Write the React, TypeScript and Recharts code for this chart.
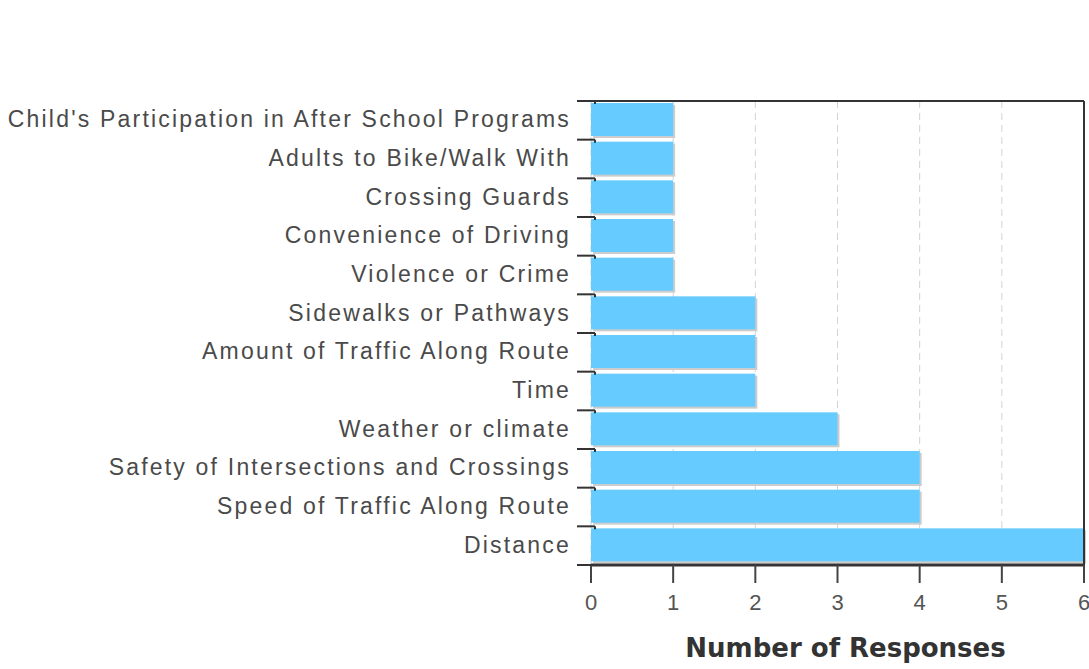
import React from "react";
import {
  BarChart,
  Bar,
  XAxis,
  YAxis,
  CartesianGrid
} from "recharts";

const categories = [
  "Child's Participation in After School Programs",
  "Adults to Bike/Walk With",
  "Crossing Guards",
  "Convenience of Driving",
  "Violence or Crime",
  "Sidewalks or Pathways",
  "Amount of Traffic Along Route",
  "Time",
  "Weather or climate",
  "Safety of Intersections and Crossings",
  "Speed of Traffic Along Route",
  "Distance"
];
const responses = [1, 1, 1, 1, 1, 2, 2, 2, 3, 4, 4, 6];
const xTicks = [0, 1, 2, 3, 4, 5, 6];

const data = categories.map((name, i) => ({ name, value: responses[i] }));

const LABEL_FONT = "'Liberation Sans', Arial, sans-serif";

// bar with a small grey drop shadow to the right
const ShadowBar = (props: any) => {
  const { x, y, width, height } = props;
  if (width <= 0) return null;
  return (
    <g>
      <rect x={x + 2} y={y + 2} width={width} height={height - 2} fill="#cccccc" />
      <rect x={x} y={y} width={width} height={height - 2} fill="#66ccff" />
    </g>
  );
};

// category label at band centre, tick mark at the band edge
const CategoryTick = (props: any) => {
  const { x, y, payload, index } = props;
  const band = 464 / categories.length;
  const top = y - band / 2;
  const axisX = x + 12;
  const marks = [top];
  if (index === categories.length - 1) marks.push(y + band / 2);
  return (
    <g>
      {marks.map((my, k) => (
        <g key={k}>
          <line x1={axisX - 18} y1={my} x2={axisX} y2={my} stroke="#333" strokeWidth={2} />
          {k === 0 && <line x1={axisX} y1={my} x2={axisX} y2={my + 3} stroke="#333" strokeWidth={2} />}
        </g>
      ))}
      <text
        x={x - 12}
        y={y}
        dy="0.3em"
        textAnchor="end"
        fontFamily={LABEL_FONT}
        fontSize={23}
        letterSpacing={2.2}
        fill="#4a4a4a"
      >
        {payload.value}
      </text>
    </g>
  );
};

const NumberTick = (props: any) => {
  const { x, y, payload } = props;
  return (
    <text
      x={x}
      y={y + 25}
      textAnchor="middle"
      fontFamily={LABEL_FONT}
      fontSize={22}
      fill="#555"
    >
      {payload.value}
    </text>
  );
};

export default function App() {
  return (
    <div style={{ position: "absolute", left: 0, top: 0, background: "#fff" }}>
      <BarChart
        width={1089}
        height={669}
        data={data}
        layout="vertical"
        margin={{ top: 100, right: 4, bottom: 0, left: 0 }}
        barCategoryGap={2}
      >
        <CartesianGrid
          horizontal={false}
          stroke="#cfd4d8"
          strokeDasharray="7 5"
        />
        <XAxis
          xAxisId="top"
          orientation="top"
          type="number"
          domain={[0, 6]}
          tick={false}
          tickLine={false}
          height={1}
          axisLine={{ stroke: "#333", strokeWidth: 2 }}
        />
        <XAxis
          type="number"
          domain={[0, 6]}
          ticks={xTicks}
          interval={0}
          height={104}
          tickSize={18}
          tickLine={{ stroke: "#444", strokeWidth: 2 }}
          axisLine={{ stroke: "#333", strokeWidth: 3 }}
          tick={<NumberTick />}
          label={{
            value: "Number of Responses",
            position: "insideBottom",
            offset: 12,
            dx: 8,
            style: {
              fontFamily: "'DejaVu Sans', Verdana, sans-serif",
              fontWeight: "bold",
              fontSize: 26,
              fill: "#333"
            }
          }}
        />
        <YAxis
          type="category"
          dataKey="name"
          width={591}
          axisLine={false}
          tickLine={false}
          interval={0}
          tick={<CategoryTick />}
        />
        <YAxis
          yAxisId="right"
          orientation="right"
          type="category"
          dataKey="name"
          width={1}
          tick={false}
          tickLine={false}
          axisLine={{ stroke: "#333", strokeWidth: 2 }}
        />
        <Bar dataKey="value" shape={<ShadowBar />} isAnimationActive={false} />
      </BarChart>
    </div>
  );
}
